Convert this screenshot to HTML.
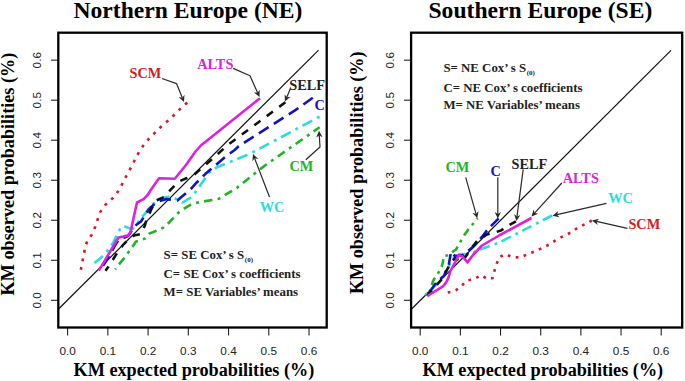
<!DOCTYPE html>
<html><head><meta charset="utf-8"><style>
html,body{margin:0;padding:0;background:#fff;}
svg{display:block;}
.t{font-family:"Liberation Serif",serif;font-weight:bold;font-size:23.6px;fill:#000;}
.ax{font-family:"Liberation Serif",serif;font-weight:bold;font-size:18.2px;fill:#000;}
.tk{font-family:"Liberation Sans",sans-serif;font-size:11.8px;fill:#222;}
.lb{font-family:"Liberation Serif",serif;font-weight:bold;font-size:14.3px;}
.lg{font-family:"Liberation Serif",serif;font-weight:bold;font-size:12.85px;fill:#222;}
.sub{font-size:7px;}
</style></head><body>
<svg width="685" height="381" viewBox="0 0 685 381">
<rect width="685" height="381" fill="#fff"/>
<!-- LEFT PANEL -->
<text x="73.5" y="17.8" class="t">Northern Europe (NE)</text>
<text x="73.6" y="375.8" class="ax">KM expected probabilities (%)</text>
<text transform="translate(13.6,295.4) rotate(-90)" class="ax">KM observed probabilities (%)</text>
<line x1="67.60" y1="327.5" x2="67.60" y2="335.6" stroke="#222" stroke-width="1.1"/>
<text x="67.60" y="355" class="tk" text-anchor="middle">0.0</text>
<line x1="51.10" y1="300.30" x2="58.3" y2="300.30" stroke="#222" stroke-width="1.1"/>
<text transform="translate(41.10,300.30) rotate(-90)" class="tk" text-anchor="middle">0.0</text>
<line x1="107.84" y1="327.5" x2="107.84" y2="335.6" stroke="#222" stroke-width="1.1"/>
<text x="107.84" y="355" class="tk" text-anchor="middle">0.1</text>
<line x1="51.10" y1="260.28" x2="58.3" y2="260.28" stroke="#222" stroke-width="1.1"/>
<text transform="translate(41.10,260.28) rotate(-90)" class="tk" text-anchor="middle">0.1</text>
<line x1="148.08" y1="327.5" x2="148.08" y2="335.6" stroke="#222" stroke-width="1.1"/>
<text x="148.08" y="355" class="tk" text-anchor="middle">0.2</text>
<line x1="51.10" y1="220.26" x2="58.3" y2="220.26" stroke="#222" stroke-width="1.1"/>
<text transform="translate(41.10,220.26) rotate(-90)" class="tk" text-anchor="middle">0.2</text>
<line x1="188.32" y1="327.5" x2="188.32" y2="335.6" stroke="#222" stroke-width="1.1"/>
<text x="188.32" y="355" class="tk" text-anchor="middle">0.3</text>
<line x1="51.10" y1="180.24" x2="58.3" y2="180.24" stroke="#222" stroke-width="1.1"/>
<text transform="translate(41.10,180.24) rotate(-90)" class="tk" text-anchor="middle">0.3</text>
<line x1="228.56" y1="327.5" x2="228.56" y2="335.6" stroke="#222" stroke-width="1.1"/>
<text x="228.56" y="355" class="tk" text-anchor="middle">0.4</text>
<line x1="51.10" y1="140.22" x2="58.3" y2="140.22" stroke="#222" stroke-width="1.1"/>
<text transform="translate(41.10,140.22) rotate(-90)" class="tk" text-anchor="middle">0.4</text>
<line x1="268.80" y1="327.5" x2="268.80" y2="335.6" stroke="#222" stroke-width="1.1"/>
<text x="268.80" y="355" class="tk" text-anchor="middle">0.5</text>
<line x1="51.10" y1="100.20" x2="58.3" y2="100.20" stroke="#222" stroke-width="1.1"/>
<text transform="translate(41.10,100.20) rotate(-90)" class="tk" text-anchor="middle">0.5</text>
<line x1="309.04" y1="327.5" x2="309.04" y2="335.6" stroke="#222" stroke-width="1.1"/>
<text x="309.04" y="355" class="tk" text-anchor="middle">0.6</text>
<line x1="51.10" y1="60.18" x2="58.3" y2="60.18" stroke="#222" stroke-width="1.1"/>
<text transform="translate(41.10,60.18) rotate(-90)" class="tk" text-anchor="middle">0.6</text>
<line x1="58.3" y1="309.2" x2="318.6" y2="50.1" stroke="#111" stroke-width="1.2"/>
<polyline points="80.8,269.8 82.3,262.3 83.7,255.1 85.2,247.4 87.4,240.6 92.0,234.4 95.3,226.7 97.6,219.5 100.0,212.4 104.7,205.4 110.0,200.4 114.2,197.0 119.7,189.0 125.2,178.0 130.7,168.0 134.8,160.0 139.0,152.0 143.0,146.0 148.6,139.0 154.0,133.6 159.7,128.0 163.8,124.0 169.3,119.8 174.8,114.3 181.7,107.4 187.3,102.5" fill="none" stroke="#d41a24" stroke-width="2.6" stroke-linecap="butt" stroke-linejoin="round" stroke-dasharray="2.90 5.80" stroke-dashoffset="8.68"/>
<polyline points="115.2,269.4 119.8,263.4 124.4,257.9 129.0,251.4 133.6,245.0 136.0,241.5 145.0,238.6 149.6,233.4 153.4,232.0 163.4,227.6 169.1,222.5 178.1,212.9 184.6,208.3 191.2,204.4 197.8,202.5 212.0,200.0 219.0,198.7 237.0,187.8 254.0,174.1 265.0,165.5 319.6,127.2" fill="none" stroke="#22b422" stroke-width="2.6" stroke-linecap="butt" stroke-linejoin="round" stroke-dasharray="3.00 5.20 8.50 5.20" stroke-dashoffset="1.83"/>
<polyline points="92.8,263.8 95.6,262.0 99.2,259.2 104.7,254.5 113.2,242.7 118.5,231.6 121.7,226.5 124.6,226.6 129.0,228.0 132.4,229.3 141.0,218.2 146.2,212.3 151.8,204.4 163.6,197.8 170.2,196.5 176.0,199.0 182.5,202.5 192.5,196.5 209.0,172.5 217.0,167.3 250.5,153.5 319.6,116.6" fill="none" stroke="#2adedb" stroke-width="2.6" stroke-linecap="butt" stroke-linejoin="round" stroke-dasharray="3.00 5.00 11.00 5.40" stroke-dashoffset="6.22"/>
<polyline points="100.0,270.0 105.5,262.0 110.5,254.0 115.0,245.5 118.5,240.0 122.1,238.6 128.0,236.0 132.0,230.5 136.4,224.8 141.0,221.5 145.5,214.3 149.5,208.4 153.4,205.1 157.0,201.8 164.3,199.8 166.3,199.1 177.4,200.4 182.0,196.5 191.2,188.6 195.8,183.4 205.2,174.1 224.9,157.1 234.3,150.2 238.7,146.2 295.0,110.4 312.8,97.8" fill="none" stroke="#1212c4" stroke-width="2.6" stroke-linecap="butt" stroke-linejoin="round" stroke-dasharray="11.50 6.20" stroke-dashoffset="12.50"/>
<polyline points="105.5,270.7 109.5,265.2 113.5,258.8 117.2,252.8 122.8,245.2 127.4,240.6 134.0,235.5 141.0,234.1 144.9,225.4 146.2,220.8 151.0,210.0 156.0,200.5 164.0,197.0 176.0,184.0 180.0,181.0 187.0,178.0 195.0,174.0 217.2,154.5 228.4,144.5 285.4,102.3" fill="none" stroke="#111" stroke-width="2.6" stroke-linecap="butt" stroke-linejoin="round" stroke-dasharray="7.70 7.80" stroke-dashoffset="2.54"/>
<polyline points="98.8,270.7 114.3,244.5 118.5,237.5 123.2,236.6 128.5,235.2 130.5,232.0 137.0,202.5 143.6,199.2 147.5,195.2 150.8,190.0 159.0,178.3 174.8,178.8 186.0,165.0 195.5,151.5 200.9,145.5 260.0,98.2" fill="none" stroke="#dd22dd" stroke-width="2.6" stroke-linecap="butt" stroke-linejoin="round"/>
<rect x="58.3" y="32.7" width="268.4" height="294.8" fill="none" stroke="#000" stroke-width="2.3"/>
<text x="129.5" y="77.6" class="lb" fill="#d41a24">SCM</text>
<text x="197.3" y="68.8" class="lb" fill="#dd22dd">ALTS</text>
<text x="289.3" y="90.2" class="lb" fill="#222">SELF</text>
<text x="314.6" y="109.9" class="lb" fill="#1212c4">C</text>
<text x="289.4" y="170.7" class="lb" fill="#22b422">CM</text>
<text x="259.8" y="211.6" class="lb" fill="#2adedb">WC</text>
<polyline points="162.0,78.5 176.5,83.6 182.3,97.7" fill="none" stroke="#2a2a2a" stroke-width="1.2" stroke-linejoin="round"/><polygon points="184.0,102.0 178.5,97.1 182.3,97.7 184.5,94.7" fill="#2a2a2a"/>
<polyline points="233.2,68.4 250.0,75.7 257.6,92.8" fill="none" stroke="#2a2a2a" stroke-width="1.2" stroke-linejoin="round"/><polygon points="259.5,97.0 253.9,92.3 257.6,92.8 259.7,89.7" fill="#2a2a2a"/>
<polyline points="290.5,88.3 286.8,97.3" fill="none" stroke="#2a2a2a" stroke-width="1.2" stroke-linejoin="round"/><polygon points="285.0,101.6 284.6,94.3 286.8,97.3 290.5,96.7" fill="#2a2a2a"/>
<polyline points="305.8,159.7 320.0,147.0 319.3,135.4" fill="none" stroke="#2a2a2a" stroke-width="1.2" stroke-linejoin="round"/><polygon points="319.0,130.8 322.6,137.2 319.3,135.4 316.2,137.6" fill="#2a2a2a"/>
<polyline points="269.5,197.0 254.6,158.3" fill="none" stroke="#2a2a2a" stroke-width="1.2" stroke-linejoin="round"/><polygon points="253.0,154.0 258.4,159.0 254.6,158.3 252.4,161.3" fill="#2a2a2a"/>
<text x="163.6" y="258.7" class="lg">S= SE Cox’ s S<tspan class="sub" dx="0.6" dy="3.2">(0)</tspan></text>
<text x="163.6" y="278.2" class="lg">C= SE Cox’ s coefficients</text>
<text x="163.6" y="295.8" class="lg">M= SE Variables’ means</text>
<!-- RIGHT PANEL -->
<text x="428.5" y="18.2" class="t">Southern Europe (SE)</text>
<text x="422.5" y="375.8" class="ax">KM expected probabilities (%)</text>
<text transform="translate(362.9,294.1) rotate(-90)" class="ax">KM observed probabilities (%)</text>
<line x1="420.20" y1="327.5" x2="420.20" y2="335.6" stroke="#222" stroke-width="1.1"/>
<text x="420.20" y="355" class="tk" text-anchor="middle">0.0</text>
<line x1="403.90" y1="300.30" x2="411.1" y2="300.30" stroke="#222" stroke-width="1.1"/>
<text transform="translate(393.90,300.30) rotate(-90)" class="tk" text-anchor="middle">0.0</text>
<line x1="460.37" y1="327.5" x2="460.37" y2="335.6" stroke="#222" stroke-width="1.1"/>
<text x="460.37" y="355" class="tk" text-anchor="middle">0.1</text>
<line x1="403.90" y1="260.28" x2="411.1" y2="260.28" stroke="#222" stroke-width="1.1"/>
<text transform="translate(393.90,260.28) rotate(-90)" class="tk" text-anchor="middle">0.1</text>
<line x1="500.54" y1="327.5" x2="500.54" y2="335.6" stroke="#222" stroke-width="1.1"/>
<text x="500.54" y="355" class="tk" text-anchor="middle">0.2</text>
<line x1="403.90" y1="220.26" x2="411.1" y2="220.26" stroke="#222" stroke-width="1.1"/>
<text transform="translate(393.90,220.26) rotate(-90)" class="tk" text-anchor="middle">0.2</text>
<line x1="540.71" y1="327.5" x2="540.71" y2="335.6" stroke="#222" stroke-width="1.1"/>
<text x="540.71" y="355" class="tk" text-anchor="middle">0.3</text>
<line x1="403.90" y1="180.24" x2="411.1" y2="180.24" stroke="#222" stroke-width="1.1"/>
<text transform="translate(393.90,180.24) rotate(-90)" class="tk" text-anchor="middle">0.3</text>
<line x1="580.88" y1="327.5" x2="580.88" y2="335.6" stroke="#222" stroke-width="1.1"/>
<text x="580.88" y="355" class="tk" text-anchor="middle">0.4</text>
<line x1="403.90" y1="140.22" x2="411.1" y2="140.22" stroke="#222" stroke-width="1.1"/>
<text transform="translate(393.90,140.22) rotate(-90)" class="tk" text-anchor="middle">0.4</text>
<line x1="621.05" y1="327.5" x2="621.05" y2="335.6" stroke="#222" stroke-width="1.1"/>
<text x="621.05" y="355" class="tk" text-anchor="middle">0.5</text>
<line x1="403.90" y1="100.20" x2="411.1" y2="100.20" stroke="#222" stroke-width="1.1"/>
<text transform="translate(393.90,100.20) rotate(-90)" class="tk" text-anchor="middle">0.5</text>
<line x1="661.22" y1="327.5" x2="661.22" y2="335.6" stroke="#222" stroke-width="1.1"/>
<text x="661.22" y="355" class="tk" text-anchor="middle">0.6</text>
<line x1="403.90" y1="60.18" x2="411.1" y2="60.18" stroke="#222" stroke-width="1.1"/>
<text transform="translate(393.90,60.18) rotate(-90)" class="tk" text-anchor="middle">0.6</text>
<line x1="411.1" y1="309.5" x2="671" y2="50.4" stroke="#111" stroke-width="1.2"/>
<polyline points="447.5,292.5 455.0,291.0 461.0,286.3 467.0,280.5 474.0,279.2 481.0,275.3 488.0,279.2 492.6,278.1 496.0,265.2 499.6,257.0 505.4,254.2 512.4,257.0 520.6,257.5 528.8,253.5 535.8,251.2 542.8,247.7 549.8,244.2 556.8,239.5 563.8,236.0 570.8,232.5 577.8,227.8 584.8,224.3 592.0,220.4" fill="none" stroke="#d41a24" stroke-width="2.6" stroke-linecap="butt" stroke-linejoin="round" stroke-dasharray="2.75 5.51" stroke-dashoffset="8.02"/>
<polyline points="429.5,292.0 432.0,285.0 433.0,281.0 436.5,275.4 441.0,269.0 443.0,262.0 443.5,256.0 447.0,255.5 456.0,249.5 463.9,235.8 470.3,226.6 474.9,222.0 477.6,218.3" fill="none" stroke="#22b422" stroke-width="2.6" stroke-linecap="butt" stroke-linejoin="round" stroke-dasharray="2.85 4.94 8.07 4.94" stroke-dashoffset="0.50"/>
<polyline points="425.5,297.0 426.0,293.9 432.0,288.9 439.0,281.9 446.0,272.0 450.0,264.0 453.0,259.0 455.5,254.4 462.0,254.0 471.0,254.5 476.7,250.5 487.7,246.8 500.0,242.2 552.1,215.5" fill="none" stroke="#2adedb" stroke-width="2.6" stroke-linecap="butt" stroke-linejoin="round" stroke-dasharray="2.85 4.75 10.45 5.13" stroke-dashoffset="21.55"/>
<polyline points="427.0,295.0 429.0,292.9 436.0,282.9 443.9,275.9 448.9,264.0 451.0,252.0 455.0,256.0 463.0,255.0 468.0,251.0 474.0,246.0 482.2,236.7 487.7,229.4 498.7,218.3" fill="none" stroke="#1212c4" stroke-width="2.6" stroke-linecap="butt" stroke-linejoin="round" stroke-dasharray="10.92 5.89" stroke-dashoffset="12.78"/>
<polyline points="427.0,296.0 435.0,287.0 442.0,279.0 446.9,270.0 450.4,263.5 455.0,258.0 461.0,262.0 464.0,259.0 470.0,250.0 477.4,240.7 487.0,234.5 495.0,232.5 501.5,230.2 508.5,225.5 516.0,221.3" fill="none" stroke="#111" stroke-width="2.6" stroke-linecap="butt" stroke-linejoin="round" stroke-dasharray="7.31 7.41" stroke-dashoffset="14.62"/>
<polyline points="427.5,296.0 434.0,291.9 438.9,288.9 442.9,286.4 445.9,282.9 448.4,277.9 450.4,271.0 457.0,258.9 458.5,255.0 462.5,256.5 467.5,262.4 473.0,255.0 482.0,245.5 500.0,235.0 531.5,218.0" fill="none" stroke="#dd22dd" stroke-width="2.6" stroke-linecap="butt" stroke-linejoin="round"/>
<rect x="411.1" y="32.7" width="271.1" height="294.8" fill="none" stroke="#000" stroke-width="2.3"/>
<text x="445.5" y="171.7" class="lb" fill="#22b422">CM</text>
<text x="490.5" y="175.9" class="lb" fill="#1212c4">C</text>
<text x="511.5" y="168.5" class="lb" fill="#222">SELF</text>
<text x="562.8" y="182.9" class="lb" fill="#dd22dd">ALTS</text>
<text x="608.2" y="202.6" class="lb" fill="#2adedb">WC</text>
<text x="628.4" y="229.1" class="lb" fill="#d41a24">SCM</text>
<polyline points="465.7,177.3 476.0,213.9" fill="none" stroke="#2a2a2a" stroke-width="1.2" stroke-linejoin="round"/><polygon points="477.3,218.3 472.4,212.8 476.0,213.9 478.6,211.1" fill="#2a2a2a"/>
<polyline points="497.8,177.3 497.8,213.9" fill="none" stroke="#2a2a2a" stroke-width="1.2" stroke-linejoin="round"/><polygon points="497.8,218.5 494.6,211.9 497.8,213.9 501.0,211.9" fill="#2a2a2a"/>
<polyline points="523.2,169.4 517.0,216.4" fill="none" stroke="#2a2a2a" stroke-width="1.2" stroke-linejoin="round"/><polygon points="516.4,221.0 514.1,214.0 517.0,216.4 520.4,214.9" fill="#2a2a2a"/>
<polyline points="561.8,183.0 534.6,213.1" fill="none" stroke="#2a2a2a" stroke-width="1.2" stroke-linejoin="round"/><polygon points="531.5,216.5 533.6,209.5 534.6,213.1 538.3,213.8" fill="#2a2a2a"/>
<polyline points="606.4,203.3 557.0,214.7" fill="none" stroke="#2a2a2a" stroke-width="1.2" stroke-linejoin="round"/><polygon points="552.5,215.7 558.2,211.1 557.0,214.7 559.6,217.3" fill="#2a2a2a"/>
<polyline points="627.4,228.3 596.5,221.4" fill="none" stroke="#2a2a2a" stroke-width="1.2" stroke-linejoin="round"/><polygon points="592.0,220.4 599.1,218.7 596.5,221.4 597.7,225.0" fill="#2a2a2a"/>
<text x="443.4" y="71.6" class="lg">S= NE Cox’ s S<tspan class="sub" dx="0.6" dy="3.2">(0)</tspan></text>
<text x="443.4" y="91.5" class="lg">C= NE Cox’ s coefficients</text>
<text x="443.4" y="108.9" class="lg">M= NE Variables’ means</text>
</svg>
</body></html>
